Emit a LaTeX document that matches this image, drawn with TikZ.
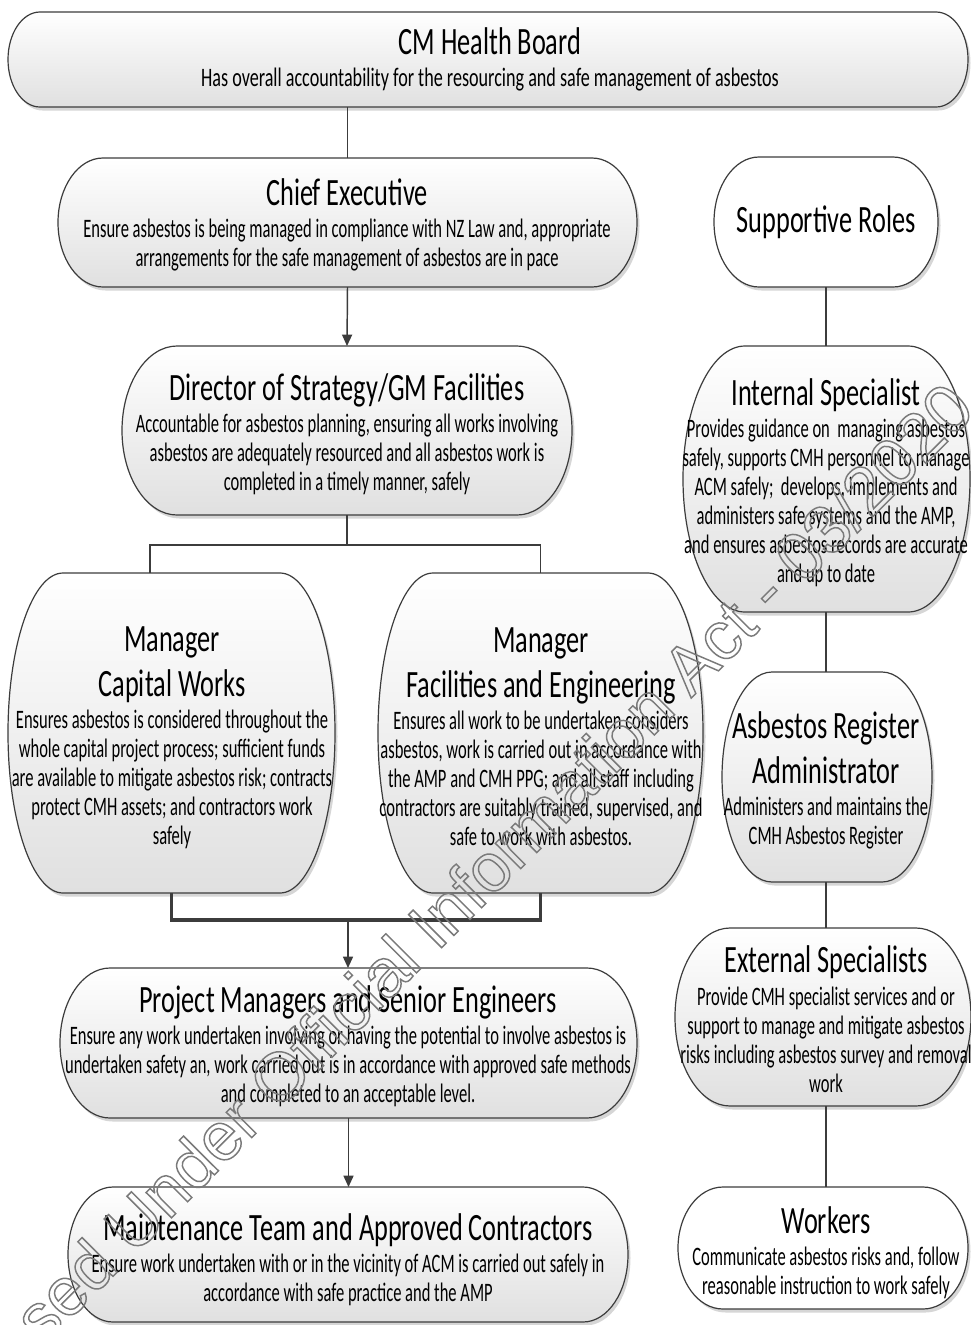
\documentclass[tikz,border=0pt]{standalone}
\usepackage{fontspec}
\setmainfont{Carlito}[FakeStretch=0.62]
\newfontfamily\ttlfont{Carlito}[FakeStretch=0.68]
\newfontfamily\wmfont{Liberation Sans}
\usetikzlibrary{arrows.meta}

\definecolor{edge}{HTML}{3C3C3C}
\definecolor{boxlow}{HTML}{E0E0E0}
\definecolor{wmgray}{HTML}{7A7A7A}

% title lines inside a box
\newcommand\ttl[1]{{\ttlfont\fontsize{29}{34.5}\selectfont #1}}

% outline of a box with half-elliptic ends: left, right, top, bottom, end radius
\newcommand\capsulepath[5]{(#1+#5,-#3) -- (#2-#5,-#3)
  arc[start angle=90,end angle=-90,x radius=#5,y radius={(#4-#3)/2}]
  -- (#1+#5,-#4)
  arc[start angle=270,end angle=90,x radius=#5,y radius={(#4-#3)/2}] -- cycle}

% role box: name, left, right, top, bottom, end radius, fill options
\newcommand\rolebox[7]{%
  \fill[black, opacity=0.16, shift={(2.5,-3.5)}] \capsulepath{#2}{#3}{#4}{#5}{#6};
  \path[draw=edge, line width=0.9pt, #7] \capsulepath{#2}{#3}{#4}{#5}{#6};
  \node[frame, minimum width={(#3-#2)*0.75pt}, minimum height={(#5-#4)*0.75pt}]
    (#1) at ({(#2+#3)/2},{-(#4+#5)/2}) {};
}

\tikzset{
  frame/.style={rectangle, inner sep=0pt, outer sep=0pt},
  shaded/.style={top color=white, bottom color=boxlow},
  plain/.style={fill=white},
  role/.style={align=center, inner sep=0pt, text=black,
    font=\fontsize{20}{21.75}\selectfont},
  conn/.style={draw=edge, line width=1.1pt},
  bracket/.style={draw=edge, line width=2.6pt},
  tip/.style={-{Triangle[length=8.5pt,width=7.5pt]}},
}

\begin{document}
\begin{tikzpicture}[x=0.75pt, y=0.75pt]
\useasboundingbox (0,0) rectangle (971,-1325);
\fill[white] (0,0) rectangle (971,-1325);

% ---------- left column ----------
\rolebox{cmhb}{8}{968}{12}{107}{32}{shaded}
\node[role] (cmhb-t) at (490,-59.5) {\ttl{CM Health Board}\\[2.5pt]
  {\ttlfont Has overall accountability for the resourcing and safe management of asbestos}};

\rolebox{ceo}{58}{637}{158}{287}{45}{shaded}
\node[role] (ceo-t) at (347,-225) {\ttl{Chief Executive}\\[2.5pt]
  Ensure asbestos is being managed in compliance with NZ Law and, appropriate\\
  arrangements for the safe management of asbestos are in pace};

\rolebox{dir}{122}{572}{346}{515}{55}{shaded}
\node[role] (dir-t) at (347,-434.5) {\ttl{Director of Strategy/GM Facilities}\\[2.5pt]
  Accountable for asbestos planning, ensuring all works involving\\
  asbestos are adequately resourced and all asbestos work is\\
  completed in a timely manner, safely};

\rolebox{capw}{8}{335}{573}{893}{55}{shaded}
\node[role] (capw-t) at (172,-737.5) {\ttl{Manager}\\[7.5pt]\ttl{Capital Works}\\[2.5pt]
  Ensures asbestos is considered throughout the\\
  whole capital project process; sufficient funds\\
  are available to mitigate asbestos risk; contracts\\
  protect CMH assets; and contractors work\\
  safely};

\rolebox{faci}{378}{703}{573}{893}{55}{shaded}
\node[role] (faci-t) at (541,-737) {\ttl{Manager}\\[7.5pt]\ttl{Facilities and Engineering}\\[2.5pt]
  Ensures all work to be undertaken considers\\
  asbestos, work is carried out in accordance with\\
  the AMP and CMH PPG; and all staff including\\
  contractors are suitably trained, supervised, and\\
  safe to work with asbestos.};

\rolebox{pm}{60}{637}{968}{1118}{50}{shaded}
\node[role] (pm-t) at (348,-1046) {\ttl{Project Managers and Senior Engineers}\\[2.5pt]
  Ensure any work undertaken involving or having the potential to involve asbestos is\\
  undertaken safety an, work carried out is in accordance with approved safe methods\\
  and completed to an acceptable level.};

\rolebox{mt}{68}{628}{1187}{1322}{45}{shaded}
\node[role] (mt-t) at (348,-1260) {\ttl{Maintenance Team and Approved Contractors}\\[2.5pt]
  Ensure work undertaken with or in the vicinity of ACM is carried out safely in\\
  accordance with safe practice and the AMP};

% ---------- right column ----------
\rolebox{sup}{714}{938}{157}{287}{45}{plain}
\node[role] (sup-t) at (826,-222) {\ttl{Supportive Roles}};

\rolebox{int}{683}{970}{346}{612}{62}{shaded}
\node[role] (int-t) at (826,-483) {\ttl{Internal Specialist}\\[2.5pt]
  Provides guidance on \ managing asbestos\\
  safely, supports CMH personnel to manage\\
  ACM safely; \ develops, implements and\\
  administers safe systems and the AMP,\\
  and ensures asbestos records are accurate\\
  and up to date};

\rolebox{ara}{722}{932}{672}{882}{50}{shaded}
\node[role] (ara-t) at (826,-780.5) {\ttl{Asbestos Register}\\[7.5pt]\ttl{Administrator}\\[2.5pt]
  Administers and maintains the\\
  CMH Asbestos Register};

\rolebox{ext}{675}{971}{928}{1106}{55}{shaded}
\node[role] (ext-t) at (826,-1019) {\ttl{External Specialists}\\[2.5pt]
  Provide CMH specialist services and or\\
  support to manage and mitigate asbestos\\
  risks including asbestos survey and removal\\
  work};

\rolebox{wk}{678}{968}{1187}{1309}{45}{plain}
\node[role] (wk-t) at (826,-1253) {\ttl{Workers}\\[2.5pt]
  Communicate asbestos risks and, follow\\
  reasonable instruction to work safely};

% ---------- connectors ----------
\coordinate (split) at (347,-545);
\coordinate (capin) at (150,-573);
\coordinate (merge) at (348,-920);

\draw[conn] (cmhb.south -| ceo.north) -- (ceo.north);
\draw[conn, tip] (ceo.south) -- (dir.north);
\draw[conn] (dir.south) -- (split);
\draw[conn] (capin) |- (split) -| (faci.north);
\draw[bracket] (capw.south) |- (merge) -| (faci.south);
\draw[conn, tip] (merge) -- (merge |- pm.north);
\draw[conn, tip] (pm.south) -- (pm.south |- mt.north);

\draw[conn] (sup.south) -- (sup.south |- int.north);
\draw[conn] (sup.south |- int.south) -- (sup.south |- ara.north);
\draw[conn] (sup.south |- ara.south) -- (sup.south |- ext.north);
\draw[conn] (sup.south |- ext.south) -- (sup.south |- wk.north);

% ---------- release stamp ----------
\node[rotate=45, inner sep=0pt, text=wmgray, font=\wmfont\fontsize{51}{51}\selectfont]
  (stamp) at (430,-925)
  {\special{pdf:literal direct 1 Tr 1.1 w}Released Under Official Information Act - 03/2020\special{pdf:literal direct 0 Tr}};
\end{tikzpicture}
\end{document}
